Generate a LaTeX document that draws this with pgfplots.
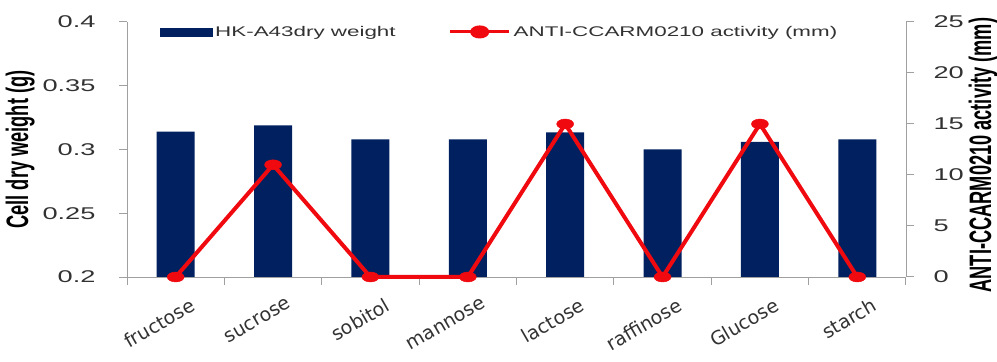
\documentclass[border=0pt]{standalone}
\usepackage{fontspec}
\usepackage{pgfplots}
\pgfplotsset{compat=1.18}
\setmainfont{Liberation Sans}[FakeStretch=1.6]
\newfontfamily\catfont{DejaVu Sans}
\newfontfamily\labelfont{Liberation Sans}[FakeStretch=0.588]
\definecolor{navy}{RGB}{0,32,96}
\definecolor{redline}{RGB}{240,10,15}
\definecolor{axisgray}{RGB}{160,160,160}
\definecolor{ticktext}{RGB}{50,50,50}

\tikzset{
  axislabel/.style={font=\labelfont\bfseries\fontsize{31bp}{34bp}\selectfont, text=black},
}
\pgfplotsset{
  common/.style={
    at={(127bp,85bp)}, anchor=south west,
    scale only axis, width=779bp, height=255bp,
    xmin=-0.5, xmax=7.5,
    axis line style={draw=axisgray, line width=1bp, -},
    tick style={draw=axisgray, line width=1bp},
    tick align=outside, major tick length=8bp,
    /pgf/number format/assume math mode=true,
    ticklabel style={font=\fontsize{17bp}{20bp}\selectfont, text=ticktext},
  },
}

\begin{document}
\begin{tikzpicture}
\useasboundingbox (0,0) rectangle (997bp,362bp);

% Cell dry weight, left axis
\begin{axis}[
  common,
  ymin=0.2, ymax=0.4,
  axis x line*=bottom, axis y line*=left,
  xtick={-0.5,0.5,1.5,2.5,3.5,4.5,5.5,6.5,7.5},
  x tick label as interval,
  xticklabels={fructose,sucrose,sobitol,mannose,lactose,raffinose,Glucose,starch},
  xticklabel style={font=\catfont\fontsize{19bp}{22bp}\selectfont,
    rotate=30, anchor=north east, xshift=9bp, yshift=-14bp},
  ytick={0.2,0.25,0.3,0.35,0.4},
  yticklabel style={/pgf/number format/fixed, /pgf/number format/precision=2, xshift=-20bp},
  ylabel={Cell dry weight (g)},
  ylabel style={axislabel, at={(axis description cs:-0.137,0.5)}, anchor=center},
]
\addplot[ybar, bar width=38bp, fill=navy, draw=none]
  coordinates {(0,0.314) (1,0.319) (2,0.308) (3,0.308) (4,0.3135) (5,0.300) (6,0.306) (7,0.308)};
\end{axis}

% Antimicrobial activity, right axis
\begin{axis}[
  common,
  ymin=0, ymax=25,
  axis x line=none, axis y line*=right,
  ytick={0,5,10,15,20,25},
  yticklabel style={xshift=16bp},
  ylabel={ANTI-CCARM0210 activity (mm)},
  ylabel style={axislabel, at={(axis description cs:1.099,0.478)}, anchor=center},
  clip=false,
  legend columns=2,
  legend style={at={(axis description cs:0.038,0.961)}, anchor=west,
    draw=none, fill=none, font=\fontsize{14bp}{17bp}\selectfont, text=ticktext,
    nodes={inner sep=3bp},
    /tikz/every even column/.append style={column sep=50bp}},
]
\addlegendimage{legend image code/.code={\fill[navy] (0bp,-4bp) rectangle (52bp,4bp);}}
\addlegendentry{HK-A43dry weight}
\addplot[redline, line width=4bp, mark=*, mark size=5bp,
  mark options={fill=redline, draw=redline, line width=0.4bp, xscale=1.7},
  legend image code/.code={
    \draw[redline, line width=3bp] (0bp,0bp) -- (59bp,0bp);
    \fill[redline] (29.5bp,0bp) ellipse (7.5bp and 4.5bp);}]
  coordinates {(0,0) (1,11) (2,0) (3,0) (4,15) (5,0) (6,15) (7,0)};
\addlegendentry{ANTI-CCARM0210 activity (mm)}
\end{axis}
\end{tikzpicture}
\end{document}
